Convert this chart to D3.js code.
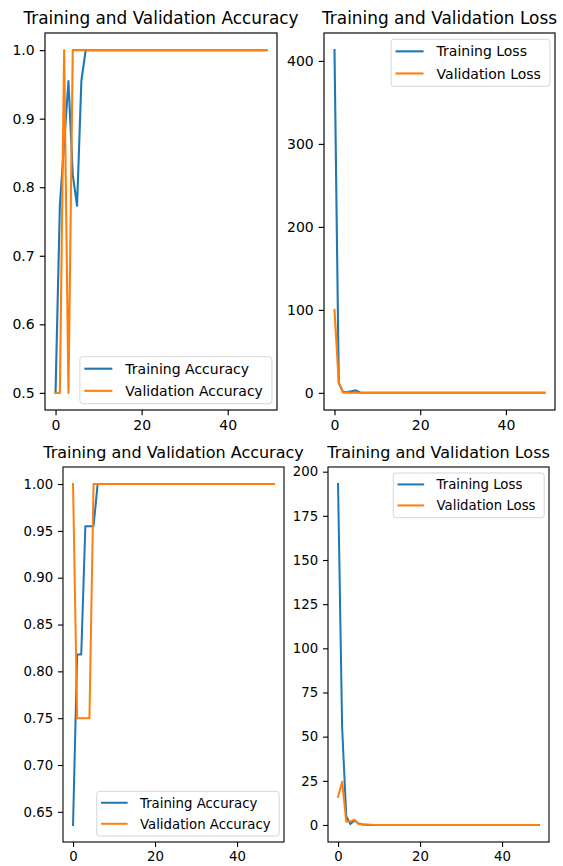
<!DOCTYPE html>
<html>
<head>
<meta charset="utf-8">
<script src="https://cdn.jsdelivr.net/npm/d3@7"></script>
<style>
  html, body { margin: 0; padding: 0; background: #ffffff; }
  svg { display: block; }
  text { font-family: "DejaVu Sans", sans-serif; fill: #000; }
</style>
</head>
<body>
<svg id="chart" width="563" height="866"></svg>
<script>
// ---- Run A (upper figure) ----
const runATrainAcc = [0.5, 0.773, 0.864, 0.955, 0.818, 0.773, 0.955, 1.0, 1.0, 1.0,
  1.0, 1.0, 1.0, 1.0, 1.0, 1.0, 1.0, 1.0, 1.0, 1.0,
  1.0, 1.0, 1.0, 1.0, 1.0, 1.0, 1.0, 1.0, 1.0, 1.0,
  1.0, 1.0, 1.0, 1.0, 1.0, 1.0, 1.0, 1.0, 1.0, 1.0,
  1.0, 1.0, 1.0, 1.0, 1.0, 1.0, 1.0, 1.0, 1.0, 1.0];
const runAValAcc = [0.5, 0.5, 1.0, 0.5, 1.0, 1.0, 1.0, 1.0, 1.0, 1.0,
  1.0, 1.0, 1.0, 1.0, 1.0, 1.0, 1.0, 1.0, 1.0, 1.0,
  1.0, 1.0, 1.0, 1.0, 1.0, 1.0, 1.0, 1.0, 1.0, 1.0,
  1.0, 1.0, 1.0, 1.0, 1.0, 1.0, 1.0, 1.0, 1.0, 1.0,
  1.0, 1.0, 1.0, 1.0, 1.0, 1.0, 1.0, 1.0, 1.0, 1.0];
const runATrainLoss = [413, 12, 1.2, 1.0, 2.0, 3.0, 0.5, 0.1, 0.05, 0.03,
  0.02, 0.02, 0.01, 0.01, 0.01, 0.01, 0.01, 0.01, 0.01, 0.01,
  0.01, 0.01, 0.01, 0.01, 0.01, 0.01, 0.01, 0.01, 0.01, 0.01,
  0.01, 0.01, 0.01, 0.01, 0.01, 0.01, 0.01, 0.01, 0.01, 0.01,
  0.01, 0.01, 0.01, 0.01, 0.01, 0.01, 0.01, 0.01, 0.01, 0.01];
const runAValLoss = [100, 12, 0.4, 0.3, 0.2, 0.1, 0.05, 0.03, 0.02, 0.02,
  0.01, 0.01, 0.01, 0.01, 0.01, 0.01, 0.01, 0.01, 0.01, 0.01,
  0.01, 0.01, 0.01, 0.01, 0.01, 0.01, 0.01, 0.01, 0.01, 0.01,
  0.01, 0.01, 0.01, 0.01, 0.01, 0.01, 0.01, 0.01, 0.01, 0.01,
  0.01, 0.01, 0.01, 0.01, 0.01, 0.01, 0.01, 0.01, 0.01, 0.01];

// ---- Run B (lower figure) ----
const runBTrainAcc = [0.636, 0.818, 0.818, 0.955, 0.955, 0.955, 1.0, 1.0, 1.0, 1.0,
  1.0, 1.0, 1.0, 1.0, 1.0, 1.0, 1.0, 1.0, 1.0, 1.0,
  1.0, 1.0, 1.0, 1.0, 1.0, 1.0, 1.0, 1.0, 1.0, 1.0,
  1.0, 1.0, 1.0, 1.0, 1.0, 1.0, 1.0, 1.0, 1.0, 1.0,
  1.0, 1.0, 1.0, 1.0, 1.0, 1.0, 1.0, 1.0, 1.0, 1.0];
const runBValAcc = [1.0, 0.75, 0.75, 0.75, 0.75, 1.0, 1.0, 1.0, 1.0, 1.0,
  1.0, 1.0, 1.0, 1.0, 1.0, 1.0, 1.0, 1.0, 1.0, 1.0,
  1.0, 1.0, 1.0, 1.0, 1.0, 1.0, 1.0, 1.0, 1.0, 1.0,
  1.0, 1.0, 1.0, 1.0, 1.0, 1.0, 1.0, 1.0, 1.0, 1.0,
  1.0, 1.0, 1.0, 1.0, 1.0, 1.0, 1.0, 1.0, 1.0, 1.0];
const runBTrainLoss = [193, 55, 5, 0.5, 2.5, 0.8, 0.3, 0.1, 0.05, 0.03,
  0.02, 0.02, 0.01, 0.01, 0.01, 0.01, 0.01, 0.01, 0.01, 0.01,
  0.01, 0.01, 0.01, 0.01, 0.01, 0.01, 0.01, 0.01, 0.01, 0.01,
  0.01, 0.01, 0.01, 0.01, 0.01, 0.01, 0.01, 0.01, 0.01, 0.01,
  0.01, 0.01, 0.01, 0.01, 0.01, 0.01, 0.01, 0.01, 0.01, 0.01];
const runBValLoss = [16, 24.5, 2, 2, 3, 0.5, 0.3, 0.2, 0.1, 0.05,
  0.03, 0.02, 0.02, 0.01, 0.01, 0.01, 0.01, 0.01, 0.01, 0.01,
  0.01, 0.01, 0.01, 0.01, 0.01, 0.01, 0.01, 0.01, 0.01, 0.01,
  0.01, 0.01, 0.01, 0.01, 0.01, 0.01, 0.01, 0.01, 0.01, 0.01,
  0.01, 0.01, 0.01, 0.01, 0.01, 0.01, 0.01, 0.01, 0.01, 0.01];

// ---- Tick labels ----
const xTickValues = [0, 20, 40];
const accTicksA = [0.5, 0.6, 0.7, 0.8, 0.9, 1.0];
const lossTicksA = [0, 100, 200, 300, 400];
const accTicksB = [0.65, 0.70, 0.75, 0.80, 0.85, 0.90, 0.95, 1.00];
const lossTicksB = [0, 25, 50, 75, 100, 125, 150, 175, 200];

const accTitle = "Training and Validation Accuracy";
const lossTitle = "Training and Validation Loss";
const accLabels = ["Training Accuracy", "Validation Accuracy"];
const lossLabels = ["Training Loss", "Validation Loss"];

const BLUE = "#1f77b4", ORANGE = "#ff7f0e";
const svg = d3.select("#chart");

function drawPanel(p) {
  const g = svg.append("g");
  const n = p.series[0].length;
  const xMax = n - 1;
  const xPad = xMax * 0.05;
  const x = d3.scaleLinear().domain([-xPad, xMax + xPad]).range([p.left, p.right]);
  const all = p.series.flat();
  const lo = d3.min(all), hi = d3.max(all);
  const yPad = (hi - lo) * 0.05;
  const y = d3.scaleLinear().domain([lo - yPad, hi + yPad]).range([p.bottom, p.top]);

  const fs = p.fs;
  const tick = 5 * p.s, pad = 4.8 * p.s;

  // x axis
  const xa = g.append("g").attr("transform", `translate(0,${p.bottom})`)
    .call(d3.axisBottom(x).tickValues(xTickValues).tickSize(tick).tickPadding(pad).tickFormat(d3.format("d")));
  // y axis
  const ya = g.append("g").attr("transform", `translate(${p.left},0)`)
    .call(d3.axisLeft(y).tickValues(p.yTicks).tickSize(tick).tickPadding(pad).tickFormat(d3.format(p.yFmt)));
  [xa, ya].forEach(a => {
    a.select(".domain").remove();
    a.selectAll(".tick line").attr("stroke", "#000").attr("stroke-width", 1.1 * p.s);
    a.selectAll(".tick text").attr("font-size", fs).attr("font-family", "DejaVu Sans").attr("fill", "#000");
  });

  // series lines
  const line = d3.line().x((d, i) => x(i)).y(d => y(d));
  p.series.forEach((s, k) => {
    g.append("path").datum(s)
      .attr("fill", "none")
      .attr("stroke", k === 0 ? BLUE : ORANGE)
      .attr("stroke-width", 2.0 * p.s)
      .attr("stroke-linejoin", "round")
      .attr("stroke-linecap", "square")
      .attr("d", line);
  });

  // frame
  g.append("rect")
    .attr("x", p.left).attr("y", p.top)
    .attr("width", p.right - p.left).attr("height", p.bottom - p.top)
    .attr("fill", "none").attr("stroke", "#000").attr("stroke-width", 1.1 * p.s);

  // title
  g.append("text")
    .attr("x", (p.left + p.right) / 2)
    .attr("y", p.top - 8.6 * p.s)
    .attr("text-anchor", "middle")
    .attr("font-size", p.titleFs)
    .text(p.title);

  // legend
  const lg = g.append("g");
  const lineStart = 0.32 * fs, handleLen = 2 * fs, textStart = 3.25 * fs;
  const rightPad = 0.65 * fs, rowH = 1.58 * fs, firstRow = 0.86 * fs;
  const axPadX = 0.36 * fs, axPadY = 0.45 * fs;
  const texts = p.labels.map(t => lg.append("text").attr("font-size", fs).text(t));
  const tw = d3.max(texts, t => t.node().getComputedTextLength());
  const lw = textStart + tw + rightPad;
  const lh = 3.36 * fs;
  const lx = p.right - axPadX - lw;
  const ly = p.legend === "lower right" ? p.bottom - axPadY - lh : p.top + axPadY;
  lg.insert("rect", "text")
    .attr("x", lx).attr("y", ly).attr("width", lw).attr("height", lh)
    .attr("rx", 3).attr("ry", 3)
    .attr("fill", "#ffffff").attr("fill-opacity", 0.8)
    .attr("stroke", "#d6d6d6").attr("stroke-width", 1);
  p.labels.forEach((t, i) => {
    const cy = ly + firstRow + rowH * i;
    lg.append("line")
      .attr("x1", lx + lineStart).attr("x2", lx + lineStart + handleLen)
      .attr("y1", cy).attr("y2", cy)
      .attr("stroke", i === 0 ? BLUE : ORANGE).attr("stroke-width", 2.0 * p.s);
    texts[i]
      .attr("x", lx + textStart)
      .attr("y", cy).attr("dy", "0.36em");
  });
}

const sA = 1.05;
drawPanel({ left: 45, right: 277, top: 33, bottom: 410, s: sA, fs: 14, titleFs: 16.9,
  series: [runATrainAcc, runAValAcc], yTicks: accTicksA, yFmt: ".1f",
  title: accTitle, labels: accLabels, legend: "lower right" });
drawPanel({ left: 324, right: 555, top: 33, bottom: 410, s: sA, fs: 14, titleFs: 16.9,
  series: [runATrainLoss, runAValLoss], yTicks: lossTicksA, yFmt: "d",
  title: lossTitle, labels: lossLabels, legend: "upper right" });
drawPanel({ left: 63, right: 284, top: 467, bottom: 842, s: 1, fs: 13.3, titleFs: 16,
  series: [runBTrainAcc, runBValAcc], yTicks: accTicksB, yFmt: ".2f",
  title: accTitle, labels: accLabels, legend: "lower right" });
drawPanel({ left: 328, right: 549, top: 467, bottom: 842, s: 1, fs: 13.3, titleFs: 16,
  series: [runBTrainLoss, runBValLoss], yTicks: lossTicksB, yFmt: "d",
  title: lossTitle, labels: lossLabels, legend: "upper right" });
</script>
</body>
</html>
